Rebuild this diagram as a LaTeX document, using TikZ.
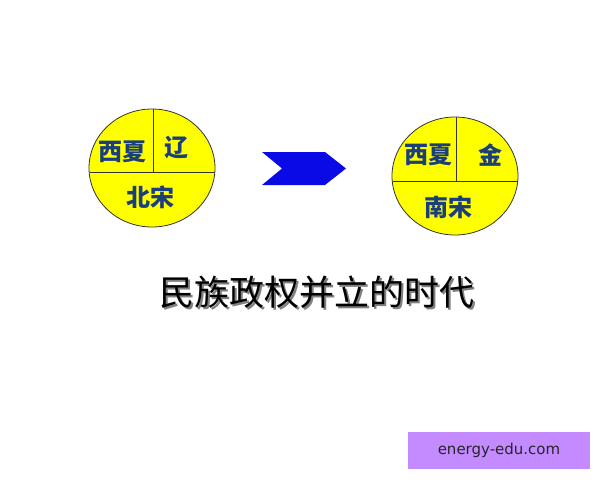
\documentclass[tikz,border=0pt]{standalone}
\usepackage{fontspec}
\setmainfont{DejaVu Sans}
\newfontfamily\cjk{Noto Sans CJK SC}
\definecolor{statefill}{HTML}{FFFF00}
\definecolor{statetext}{HTML}{1A3F7A}
\definecolor{arrowblue}{HTML}{0A0AE6}
\definecolor{markbg}{HTML}{C38BFF}

\begin{document}
\begin{tikzpicture}[x=1pt,y=-1pt,
  state/.style={draw=black!80,fill=statefill,line width=0.8pt},
  split/.style={draw=black!80,line width=0.8pt},
  statelabel/.style={font=\cjk\bfseries\fontsize{24}{24}\selectfont,text=statetext,inner sep=0pt}]
  \useasboundingbox[fill=white] (0,0) rectangle (600,480);
  % left: before
  \coordinate (l) at (152,168);
  \draw[state] (l) ellipse [x radius=63, y radius=59];
  \draw[split] (89.5,172) -- (214.5,172);
  \draw[split] (153,109) -- (153,172);
  \node[statelabel] (xixia1) at (122,152) {西夏};
  \node[statelabel] (liao) at (176,148) {辽};
  \node[statelabel] (beisong) at (150,197) {北宋};
  % arrow
  \fill[arrowblue] (262,152) -- (325,152) -- (346,168.5) -- (325,185) -- (262,185) -- (282,168.5) -- cycle;
  % right: after
  \coordinate (r) at (455,176);
  \draw[state] (r) ellipse [x radius=63, y radius=59];
  \draw[split] (392.5,181) -- (517.5,181);
  \draw[split] (456,117) -- (456,181);
  \node[statelabel] (xixia2) at (428,155) {西夏};
  \node[statelabel] (jin) at (490,155) {金};
  \node[statelabel] (nansong) at (448,207) {南宋};
  % title
  \node[font=\cjk\fontsize{35}{35}\selectfont,text=black!50,inner sep=0pt] at (319,294) {民族政权并立的时代};
  \node[font=\cjk\fontsize{35}{35}\selectfont,inner sep=0pt] (title) at (317,292) {民族政权并立的时代};
  % watermark
  \fill[markbg] (408,432) rectangle (590,469);
  \node[font=\fontsize{15}{15}\selectfont,text=black!85] (mark) at (499,450.5) {energy-edu.com};
\end{tikzpicture}
\end{document}
